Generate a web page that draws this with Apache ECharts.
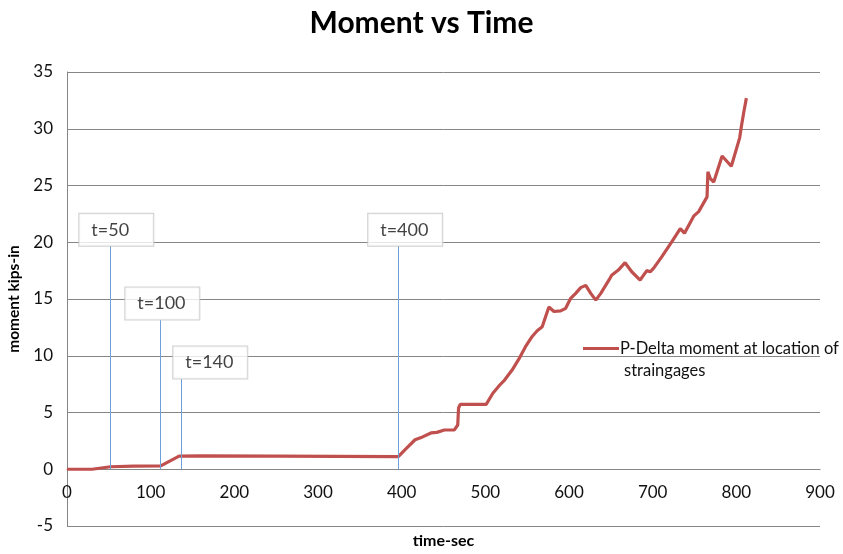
<!DOCTYPE html>
<html>
<head>
<meta charset="utf-8">
<script src="https://cdn.jsdelivr.net/npm/echarts@6/dist/echarts.min.js"></script>
<style>
  html, body { margin: 0; padding: 0; background: #fff; }
  #main { width: 843px; height: 554px; }
</style>
</head>
<body>
<div id="main"></div>
<script>
// time (sec) and moment (kips-in)
var timeSec = [0, 30, 52, 80, 112, 134, 160, 250, 396, 405, 416, 425, 435, 442, 451, 463, 467, 468, 470, 485,
  501, 509, 517, 523, 532, 540, 548, 556, 562, 568, 572, 576, 578, 582, 590, 596, 602, 608, 614, 620,
  626, 632, 638, 648, 651, 659, 667, 675, 685, 693, 697, 701, 711, 723, 733, 738, 749, 755, 765, 766,
  769, 773, 783, 794, 804, 806, 809, 812];
var moment = [0, 0, 0.22, 0.28, 0.3, 1.15, 1.17, 1.15, 1.12, 1.8, 2.6, 2.85, 3.2, 3.25, 3.46, 3.46, 3.9, 5.4, 5.72, 5.72,
  5.72, 6.7, 7.4, 7.86, 8.74, 9.7, 10.8, 11.7, 12.2, 12.56, 13.44, 14.3, 14.47, 13.9, 13.95, 14.18, 15.06, 15.5, 16.0, 16.2,
  15.5, 14.9, 15.5, 16.7, 17.1, 17.55, 18.2, 17.4, 16.67, 17.5, 17.4, 17.7, 18.73, 20.05, 21.2, 20.8, 22.3, 22.7, 24.0, 26.2,
  25.6, 25.3, 27.6, 26.7, 29.2, 30.2, 31.5, 32.7];

// callouts: label, time of the pointer line, top of pointer line, box left edge / middle
var calloutText = ['t=50', 't=100', 't=140', 't=400'];
var calloutTime = [52, 112, 136, 396];
var calloutTop = [19.7, 13.15, 7.95, 19.7];
var calloutBoxX = [14.7, 69.7, 127, 360];
var calloutBoxY = [21.1, 14.6, 9.4, 21.1];

var seriesName = 'P-Delta moment at location of';
var seriesName2 = 'straingages';

var chartDom = document.getElementById('main');
var myChart = echarts.init(chartDom);

var lineData = timeSec.map(function (t, i) { return [t, moment[i]]; });
var boxData = calloutText.map(function (s, i) { return { value: [calloutBoxX[i], calloutBoxY[i]], name: s }; });
var pointerData = calloutTime.map(function (t, i) {
  return [{ coord: [t, 0] }, { coord: [t, calloutTop[i]] }];
});

var font = 'Lato, "Open Sans", sans-serif';
var textColor = '#111';

var option = {
  animation: false,
  textStyle: { fontFamily: font },
  title: [
    {
      text: 'Moment vs Time',
      left: 'center',
      top: 3,
      textStyle: { fontSize: 30, fontWeight: 'bold', color: '#000', fontFamily: font }
    },
    {
      text: seriesName2,
      left: 619,
      top: 357,
      textStyle: { fontSize: 16.5, fontWeight: 'normal', color: textColor, fontFamily: font }
    }
  ],
  legend: {
    left: 578,
    top: 335,
    icon: 'rect',
    itemWidth: 36,
    itemHeight: 3,
    itemGap: 4,
    data: [seriesName],
    textStyle: { fontSize: 16.5, color: textColor, fontFamily: font, padding: [0, 0, 0, -4] }
  },
  grid: {
    left: 67,
    right: 23,
    top: 72,
    bottom: 28,
    outerBoundsMode: 'none',
    containLabel: false
  },
  xAxis: {
    type: 'value',
    min: 0,
    max: 900,
    interval: 100,
    position: 'bottom',
    offset: -57,
    name: 'time-sec',
    nameLocation: 'middle',
    nameGap: 64,
    nameTextStyle: { fontSize: 16, fontWeight: 'bold', color: '#000', fontFamily: font },
    axisLine: { show: true, onZero: false, lineStyle: { color: '#868686', width: 1 } },
    axisTick: { show: false },
    axisLabel: { fontSize: 17, color: textColor, margin: 15, fontFamily: font },
    splitLine: { show: false }
  },
  yAxis: {
    type: 'value',
    min: -5,
    max: 35,
    interval: 5,
    name: 'moment kips-in',
    nameLocation: 'middle',
    nameGap: 43,
    nameTextStyle: { fontSize: 15.5, fontWeight: 'bold', color: '#000', fontFamily: font },
    axisLine: { show: true, onZero: false, lineStyle: { color: '#868686', width: 1 } },
    axisTick: { show: false },
    axisLabel: { fontSize: 17, color: textColor, margin: 14, fontFamily: font },
    splitLine: { show: true, lineStyle: { color: '#868686', width: 1 } }
  },
  series: [
    {
      name: seriesName,
      type: 'line',
      data: lineData,
      showSymbol: false,
      symbol: 'none',
      lineStyle: { color: '#c0504d', width: 3.2 },
      itemStyle: { color: '#c0504d' },
      z: 3
    },
    {
      name: 'callouts',
      type: 'scatter',
      data: boxData,
      symbolSize: 0,
      z: 5,
      label: {
        show: true,
        position: 'inside',
        formatter: '{b}',
        fontSize: 18,
        color: textColor,
        fontFamily: font,
        backgroundColor: '#fff',
        borderColor: '#c4c4c4',
        borderWidth: 1,
        width: 62,
        height: 32,
        lineHeight: 32,
        align: 'left',
        padding: [0, 0, 0, 12]
      },
      markLine: {
        silent: true,
        symbol: 'none',
        label: { show: false },
        lineStyle: { color: '#6f9fd8', width: 1, type: 'solid' },
        data: pointerData
      }
    }
  ]
};

option && myChart.setOption(option);
</script>
</body>
</html>
